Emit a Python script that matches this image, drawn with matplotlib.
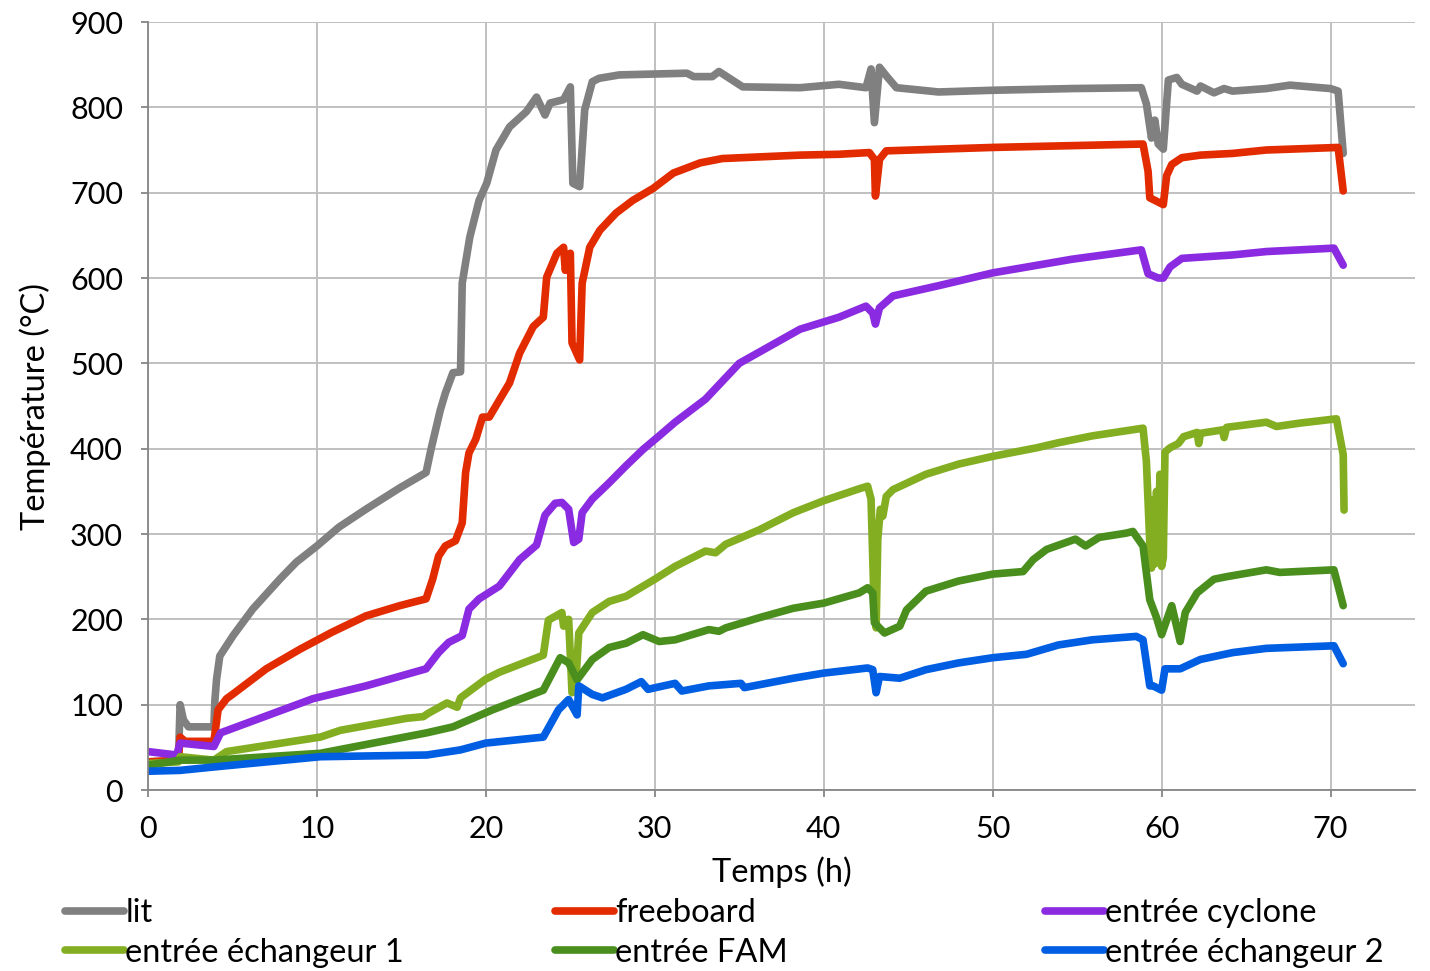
import matplotlib
matplotlib.use('Agg')
import matplotlib.pyplot as plt
import numpy as np

plt.rcParams['font.family'] = ['Lato', 'DejaVu Sans']

# data: (time in h, temperature in degC)
t_lit = [0, 1.8, 1.9, 2.1, 2.4, 3.9, 3.96, 4.06, 4.25, 5.04, 6.2, 7.8, 8.78, 10, 11.3, 12.9,
         14.9, 16.46, 16.75, 17.0, 17.3, 17.6, 18.05, 18.5, 18.6, 19.05, 19.6, 20.05, 20.6,
         21.4, 22.4, 23.0, 23.5, 23.8, 24.6, 25.0, 25.15, 25.55, 25.85, 26.3, 26.7, 27.9,
         29.9, 31.9, 32.3, 33.4, 33.8, 35.2, 38.6, 40.9, 42.5, 42.8, 43.0, 43.3, 43.7, 44.3,
         46.8, 50, 54.7, 58.8, 59.1, 59.4, 59.6, 59.8, 60.1, 60.4, 60.9, 61.2, 62.1, 62.3,
         63.1, 63.7, 64.2, 66.2, 67.6, 70.0, 70.45, 70.75]
y_lit = [33, 34, 100, 82, 74, 74, 105, 130, 157, 181, 212, 247, 267, 286, 308, 329,
         354, 372, 399, 420, 445, 465, 489, 490, 594, 648, 691, 711, 750,
         777, 795, 812, 791, 805, 809, 824, 711, 707, 797, 830, 834, 838,
         839, 840, 836, 836, 842, 824, 823, 827, 823, 845, 782, 847, 837, 823,
         818, 820, 822, 823, 804, 764, 785, 757, 751, 832, 835, 827, 819, 825,
         817, 822, 819, 822, 826, 822, 819, 746]

t_free = [0, 1.8, 1.9, 2.2, 3.9, 4.15, 4.65, 5.0, 7.0, 9.0, 10.9, 12.9, 14.9, 16.46, 16.85,
          17.2, 17.6, 18.2, 18.6, 18.8, 19.0, 19.4, 19.8, 20.2, 21.4, 22.0, 22.8, 23.4, 23.6,
          24.2, 24.6, 24.7, 25.0, 25.1, 25.55, 25.7, 26.15, 26.75, 27.7, 28.7, 29.9, 31.1,
          32.7, 34.0, 38.6, 40.9, 42.7, 43.0, 43.06, 43.3, 43.7, 50, 58.9, 59.2, 59.3, 59.8,
          60.1, 60.3, 60.6, 61.2, 62.3, 64.2, 66.2, 70.45, 70.75]
y_free = [33, 35, 62, 57, 57, 94, 107, 112, 142, 165, 185, 204, 216, 224, 247,
          274, 286, 292, 313, 372, 395, 411, 437, 437, 477, 512, 543, 554, 601,
          629, 636, 609, 629, 524, 504, 594, 636, 656, 676, 691, 705, 723,
          735, 740, 744, 745, 747, 739, 696, 739, 749, 753, 757, 725, 694, 689,
          686, 720, 733, 741, 744, 746, 750, 753, 702]

t_cyc = [0, 1.7, 1.9, 3.9, 4.3, 9.76, 12.9, 16.46, 17.2, 17.8, 18.6, 19.0, 19.6, 20.8, 22.0,
         23.0, 23.5, 24.1, 24.5, 24.9, 25.2, 25.5, 25.7, 26.3, 27.3, 28.3, 29.3, 30.26, 31.2,
         33.0, 35, 38.6, 40.9, 42.5, 42.9, 43.06, 43.3, 44.1, 46.8, 50, 54.7, 58.8, 59.2,
         59.8, 60.1, 60.5, 61.2, 64.2, 66.2, 70.2, 70.75]
y_cyc = [45, 41, 55, 51, 67, 107, 122, 142, 161, 173, 181, 212, 224, 239, 270,
         287, 322, 336, 337, 329, 290, 294, 325, 341, 360, 380, 399, 415, 431,
         458, 500, 540, 554, 567, 559, 546, 565, 579, 591, 606, 622, 633, 605,
         600, 600, 613, 623, 627, 631, 635, 615]

t_ech1 = [0, 1.8, 1.9, 3.9, 4.65, 10.2, 11.4, 15.3, 16.3, 16.6, 17.7, 18.3, 18.5, 20, 20.8,
          23.4, 23.7, 24.5, 24.6, 24.9, 25.1, 25.3, 25.5, 25.9, 26.3, 27.3, 28.3, 30, 31.2,
          33, 33.6, 34.2, 36.2, 38.2, 40, 42.1, 42.6, 42.8, 43.0, 43.1, 43.2, 43.35, 43.5,
          43.7, 44.1, 46.05, 48.0, 50, 52.6, 53.9, 55.9, 57.9, 58.9, 59.1, 59.3, 59.4, 59.5,
          59.6, 59.7, 59.8, 59.9, 60.0, 60.1, 60.2, 60.5, 60.99, 61.3, 62.1, 62.2, 62.3, 63.6,
          63.7, 63.85, 66.2, 66.8, 68.2, 70.35, 70.75, 70.8]
y_ech1 = [31, 33, 39, 35, 45, 62, 70, 84, 86, 90, 102, 97, 108, 130, 138,
          158, 199, 208, 192, 200, 114, 118, 184, 196, 208, 221, 227, 247, 262,
          280, 278, 288, 305, 325, 339, 353, 356, 341, 204, 190, 294, 329, 321,
          344, 352, 370, 382, 391, 401, 407, 415, 421, 424, 385, 290, 260, 340,
          265, 350, 268, 370, 262, 272, 396, 401, 406, 414, 419, 406, 418, 422,
          413, 425, 431, 426, 430, 435, 393, 328]

t_fam = [0, 1.9, 3.9, 10.2, 16.5, 18.05, 20.4, 23.4, 24.4, 24.9, 25.4, 26.3, 27.3, 28.3, 29.3,
         30.26, 31.2, 33.2, 33.8, 34.2, 36.2, 38.2, 40, 42.1, 42.6, 42.9, 43.0, 43.6, 44.5,
         44.9, 46.05, 48.0, 50, 51.8, 52.4, 53.2, 54.9, 55.5, 56.3, 57.9, 58.3, 58.9, 59.3,
         59.7, 60.0, 60.6, 61.1, 61.4, 62.1, 63.1, 63.85, 66.2, 67.0, 70.2, 70.75]
y_fam = [29, 35, 35, 43, 67, 74, 94, 117, 155, 149, 129, 153, 167, 172, 182,
         174, 176, 188, 186, 190, 202, 213, 219, 231, 237, 231, 196, 184, 192,
         211, 233, 245, 253, 256, 270, 282, 294, 286, 296, 301, 303, 286, 223,
         202, 182, 216, 174, 208, 231, 247, 250, 258, 255, 258, 216]

t_ech2 = [0, 1.9, 3.9, 10.2, 16.5, 18.5, 20, 23.4, 24.3, 24.9, 25.4, 25.5, 26.3, 26.9, 28.3,
          29.2, 29.6, 31.2, 31.6, 33.2, 35.1, 35.3, 38.2, 40, 42.6, 42.9, 43.1, 43.3, 44.5,
          46.05, 48, 50, 52, 53.9, 55.9, 58.5, 58.9, 59.3, 59.5, 60.0, 60.2, 61.1, 62.3,
          64.2, 66.2, 70.2, 70.75]
y_ech2 = [22, 23, 27, 39, 41, 47, 55, 62, 94, 106, 88, 122, 112, 108, 118,
          127, 118, 125, 116, 122, 125, 120, 131, 137, 143, 141, 114, 133, 131,
          141, 149, 155, 159, 170, 176, 180, 176, 122, 122, 117, 142, 142, 153,
          161, 166, 169, 148]

series = [
    ('lit', t_lit, y_lit, '#808080'),
    ('freeboard', t_free, y_free, '#E32B00'),
    ('entrée cyclone', t_cyc, y_cyc, '#8A2BE2'),
    ('entrée échangeur 1', t_ech1, y_ech1, '#84AE22'),
    ('entrée FAM', t_fam, y_fam, '#4A8F1E'),
    ('entrée échangeur 2', t_ech2, y_ech2, '#005EE3'),
]

fs = 22      # tick labels
fs_lab = 23.5  # axis titles and legend

fig = plt.figure(figsize=(14.3, 9.71), dpi=100)
ax = fig.add_axes([148 / 1430, 1 - 790 / 971, (1415 - 148) / 1430, (790 - 22) / 971])

handles = {}
for name, t, y, col in series:
    ln, = ax.plot(t, y, color=col, lw=5.5, solid_capstyle='round', solid_joinstyle='round',
                  label=name)
    handles[name] = ln

ax.set_xlim(0, 75)
ax.set_ylim(0, 900)
ax.set_xticks(np.arange(0, 71, 10))
ax.set_yticks(np.arange(0, 901, 100))
ax.grid(True, color='#c0c0c0', lw=1.4)
ax.set_axisbelow(True)
for s in ['top', 'right']:
    ax.spines[s].set_visible(False)
for s in ['left', 'bottom']:
    ax.spines[s].set_color('#868686')
    ax.spines[s].set_linewidth(1.3)
ax.tick_params(axis='both', direction='out', length=5, width=1.3, color='#868686',
               labelsize=fs, pad=13)
ax.set_xlabel('Temps (h)', fontsize=fs_lab, labelpad=10)
ax.set_ylabel('Température (°C)', fontsize=fs_lab, labelpad=14)

# three legend columns, two entries each
cols = [(['lit', 'entrée échangeur 1'], 65),
        (['freeboard', 'entrée FAM'], 555),
        (['entrée cyclone', 'entrée échangeur 2'], 1045)]
for names, x0 in cols:
    fig.legend([handles[n] for n in names], names, loc='center left',
               bbox_to_anchor=(x0 / 1430, 1 - 933 / 971), frameon=False,
               fontsize=fs_lab, handlelength=1.8, handletextpad=0.05,
               labelspacing=0.3, borderpad=0, borderaxespad=0)

fig.savefig('out.png', dpi=100)
